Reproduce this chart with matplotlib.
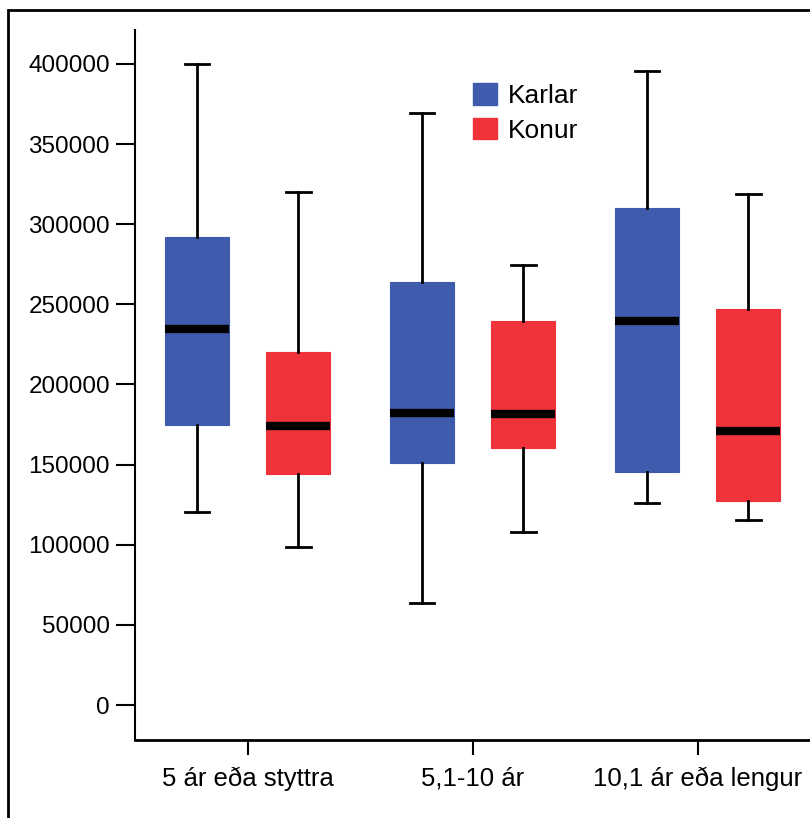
import matplotlib.pyplot as plt
from matplotlib.patches import Patch, Rectangle

plt.rcParams['font.family'] = ['Liberation Sans', 'DejaVu Sans']

groups = ["5 ár eða styttra", "5,1-10 ár", "10,1 ár eða lengur"]
series = ["Karlar", "Konur"]
colors = ["#3F5BAE", "#F0323A"]

# whislo, q1, med, q3, whishi
karlar = [
    [120400, 174700, 234600, 292000, 400000],
    [63600, 151000, 182200, 264000, 369400],
    [126100, 145400, 239600, 310100, 395600],
]
konur = [
    [98600, 144100, 174100, 220300, 320100],
    [108000, 160400, 181600, 239600, 274600],
    [115400, 127300, 171000, 247100, 318900],
]
yticks = [0, 50000, 100000, 150000, 200000, 250000, 300000, 350000, 400000]

fig = plt.figure(figsize=(8.1, 8.18), dpi=100)
ax = fig.add_axes([135 / 810, 78 / 818, 675 / 810, 710 / 818])

offset = 0.225
for s, (data, col) in enumerate(zip([karlar, konur], colors)):
    stats = []
    for row in data:
        stats.append(dict(whislo=row[0], q1=row[1], med=row[2], q3=row[3],
                          whishi=row[4], fliers=[]))
    pos = [i + (offset if s else -offset) for i in range(len(groups))]
    ax.bxp(stats, positions=pos, widths=0.284, capwidths=0.11,
           patch_artist=True, showfliers=False,
           boxprops=dict(facecolor=col, edgecolor=col, linewidth=0.8),
           medianprops=dict(color="black", linewidth=6, solid_capstyle="butt"),
           whiskerprops=dict(color="black", linewidth=2),
           capprops=dict(color="black", linewidth=2))

ax.set_xlim(-0.5, 2.5)
ax.set_ylim(-21840, 421200)
ax.set_xticks(range(len(groups)))
ax.set_xticklabels(groups)
ax.set_yticks(yticks)
ax.set_yticklabels([str(v) for v in yticks])
ax.tick_params(axis="y", length=14, width=1.5, pad=4, labelsize=17.5)
ax.tick_params(axis="x", length=11, width=1.5, pad=8, labelsize=18.5)
ax.spines["top"].set_visible(False)
ax.spines["right"].set_visible(False)
ax.spines["left"].set_linewidth(1.5)
ax.spines["bottom"].set_linewidth(2)

handles = [Patch(facecolor=c, edgecolor=c, label=l) for c, l in zip(colors, series)]
fig.legend(handles=handles, loc="upper left", bbox_to_anchor=(460 / 810, 1 - 70 / 818),
           frameon=False, fontsize=19, handlelength=0.91, handleheight=0.87,
           handletextpad=0.42, labelspacing=0.38, borderpad=0)

fig.add_artist(Rectangle((8 / 810, -0.1), 1.0, 1 - 10 / 818 + 0.1,
                         transform=fig.transFigure, fill=False,
                         edgecolor="black", linewidth=2))

fig.savefig("out.png", dpi=100)
